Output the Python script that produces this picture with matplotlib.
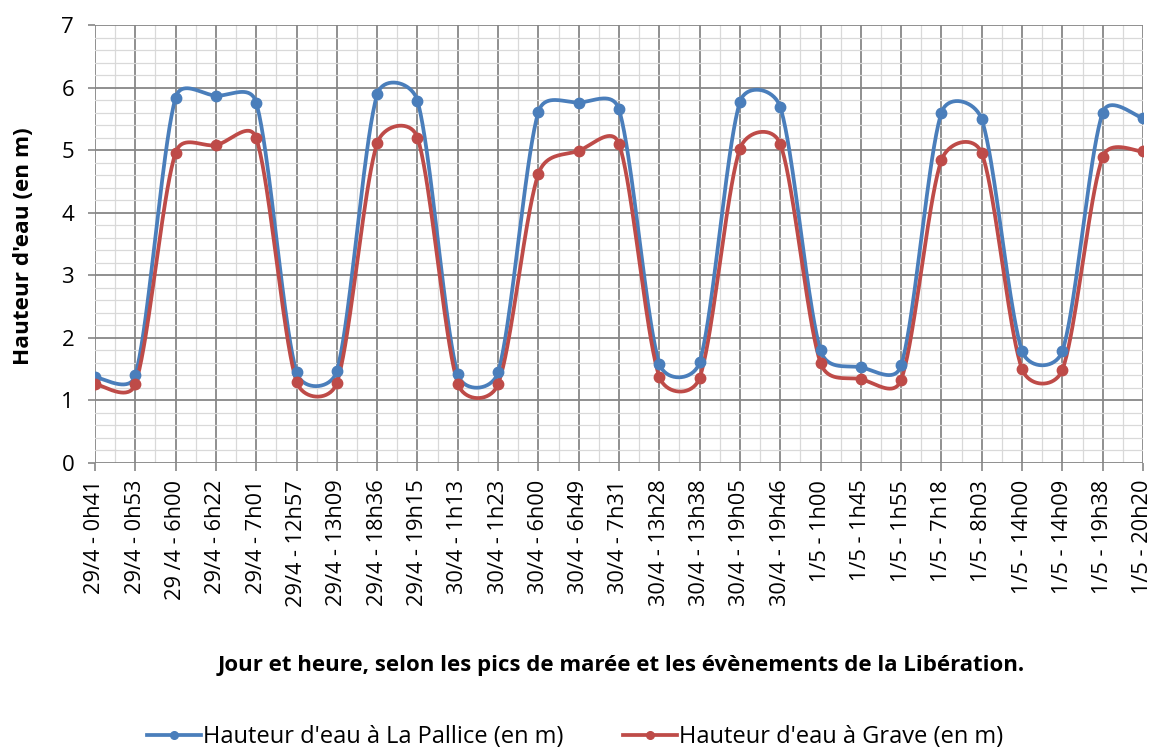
import numpy as np
import matplotlib
matplotlib.use("Agg")
import matplotlib.pyplot as plt
from matplotlib.lines import Line2D
from matplotlib.ticker import MultipleLocator

plt.rcParams['font.family'] = ['Open Sans', 'DejaVu Sans']

labels = ["29/4 - 0h41", "29/4 - 0h53", "29 /4 - 6h00", "29/4 - 6h22", "29/4 - 7h01",
          "29/4 - 12h57", "29/4 - 13h09", "29/4 - 18h36", "29/4 - 19h15",
          "30/4 - 1h13", "30/4 - 1h23", "30/4 - 6h00", "30/4 - 6h49", "30/4 - 7h31",
          "30/4 - 13h28", "30/4 - 13h38", "30/4 - 19h05", "30/4 - 19h46",
          "1/5 - 1h00", "1/5 - 1h45", "1/5 - 1h55", "1/5 - 7h18", "1/5 - 8h03",
          "1/5 - 14h00", "1/5 - 14h09", "1/5 - 19h38", "1/5 - 20h20"]

pallice = [1.37, 1.40, 5.84, 5.87, 5.76, 1.45, 1.47, 5.89, 5.79,
           1.42, 1.45, 5.61, 5.76, 5.65, 1.59, 1.61, 5.77, 5.69,
           1.80, 1.53, 1.56, 5.60, 5.49, 1.79, 1.79, 5.60, 5.51]

grave = [1.26, 1.26, 4.96, 5.08, 5.19, 1.30, 1.28, 5.11, 5.20,
         1.27, 1.26, 4.62, 4.99, 5.10, 1.38, 1.36, 5.02, 5.10,
         1.60, 1.34, 1.33, 4.84, 4.95, 1.50, 1.49, 4.89, 4.98]

BLUE = "#4A7EBB"
RED = "#BE4B48"

W, H = 1158, 749
AX_L, AX_R, AX_T, AX_B = 95, 1143, 25, 463


def excel_smooth(ax, x, y, n=40):
    """Excel-style smoothed line (Bezier, tension 1/6 limited by segment length), in pixel space."""
    T = ax.transData
    P = T.transform(np.column_stack([np.asarray(x, float), np.asarray(y, float)]))
    out = []
    m = len(P)
    for i in range(m - 1):
        p0 = P[i - 1] if i > 0 else P[i]
        p1 = P[i]
        p2 = P[i + 1]
        p3 = P[i + 2] if i + 2 < m else P[i + 1]
        d02 = np.hypot(*(p2 - p0))
        d12 = np.hypot(*(p2 - p1))
        d13 = np.hypot(*(p3 - p1))
        f1 = 1 / 6
        f2 = 1 / 6
        if d02 > 0 and d02 / 6 >= d12 / 2:
            f1 = d12 / (2 * d02)
        if d13 > 0 and d13 / 6 >= d12 / 2:
            f2 = d12 / (2 * d13)
        c1 = p1 + (p2 - p0) * f1
        c2 = p2 - (p3 - p1) * f2
        t = np.linspace(0, 1, n)[:, None]
        seg = ((1 - t) ** 3) * p1 + 3 * ((1 - t) ** 2) * t * c1 + 3 * (1 - t) * t ** 2 * c2 + t ** 3 * p2
        if i > 0:
            seg = seg[1:]
        out.append(seg)
    out = np.vstack(out)
    d = T.inverted().transform(out)
    return d[:, 0], d[:, 1]


fig = plt.figure(figsize=(W / 100, H / 100), dpi=100)
ax = fig.add_axes([AX_L / W, 1 - AX_B / H, (AX_R - AX_L) / W, (AX_B - AX_T) / H])

xs = np.arange(len(labels))
ax.set_xlim(0, len(labels) - 1)
ax.set_ylim(0, 7)

for vals, col in [(pallice, BLUE), (grave, RED)]:
    sx, sy = excel_smooth(ax, xs, vals)
    ax.plot(sx, sy, color=col, lw=2.7, solid_capstyle='round', zorder=3)
    ax.plot(xs, vals, 'o', color=col, ms=7.5, zorder=4)

ax.set_xticks(xs)
ax.set_xticklabels(labels, rotation=90, fontsize=15.7)
ax.xaxis.set_minor_locator(MultipleLocator(0.5))
ax.yaxis.set_major_locator(MultipleLocator(1))
ax.yaxis.set_minor_locator(MultipleLocator(0.2))
ax.tick_params(axis='y', which='major', labelsize=16, length=5, width=1.2, color='#868686', pad=10)
ax.tick_params(axis='x', which='major', length=6, width=1.2, color='#868686', pad=6)
ax.tick_params(which='minor', length=0)
ax.grid(which='major', color='#878787', lw=1.3, zorder=1)
ax.grid(which='minor', color='#D9D9D9', lw=0.9, zorder=0)
ax.set_axisbelow(True)
for s in ax.spines.values():
    s.set_visible(False)

fig.text(24 / W, 1 - 246 / H, "Hauteur d'eau (en m)", rotation=90,
         ha='center', va='center', fontsize=16.2, fontweight='bold')
fig.text(0.5 * (AX_L + AX_R) / W + 0.0015, 1 - 666 / H,
         "Jour et heure, selon les pics de marée et les évènements de la Libération.",
         ha='center', va='center', fontsize=16, fontweight='bold')

handles = [Line2D([], [], color=BLUE, lw=2.7, marker='o', ms=5.5),
           Line2D([], [], color=RED, lw=2.7, marker='o', ms=5.5)]
fig.legend(handles, ["Hauteur d'eau à La Pallice (en m)", "Hauteur d'eau à Grave (en m)"],
           loc='center', bbox_to_anchor=(575 / W, 1 - 737 / H), ncol=2, frameon=False,
           fontsize=17, handlelength=2.3, handletextpad=0.08, columnspacing=2.5,
           borderpad=0, borderaxespad=0)

fig.savefig("out.png", dpi=100)
